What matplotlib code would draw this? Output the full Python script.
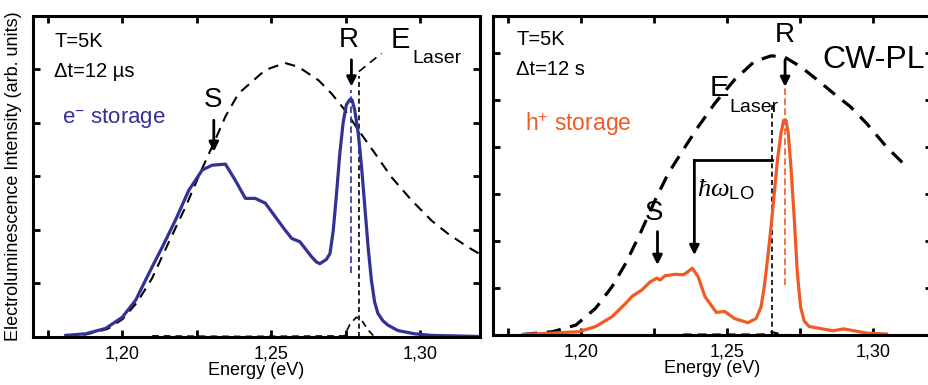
import numpy as np
import matplotlib
matplotlib.use("Agg")
import matplotlib.pyplot as plt
from matplotlib.ticker import FixedLocator, FuncFormatter

plt.rcParams['font.family'] = ['Liberation Sans', 'DejaVu Sans']
plt.rcParams['mathtext.fontset'] = 'custom'
plt.rcParams['mathtext.rm'] = 'Liberation Sans'
plt.rcParams['mathtext.it'] = 'Liberation Serif:italic'

BLUE = '#323296'
ORANGE = '#f15a24'

# left panel: electron storage EL spectrum (dt = 12 us)
e_energy = [1.181, 1.1877, 1.1944, 1.200, 1.2045, 1.2067, 1.210, 1.2134, 1.2178,
            1.2223, 1.2268, 1.2301, 1.2346, 1.2379, 1.2413, 1.2446, 1.248, 1.2513,
            1.2546, 1.2569, 1.2596, 1.2635, 1.2652, 1.2663, 1.2685, 1.2697, 1.2708,
            1.2719, 1.2730, 1.2741, 1.2752, 1.2764, 1.2771, 1.2780, 1.2792, 1.2803,
            1.2814, 1.2825, 1.2836, 1.2847, 1.2858, 1.2875, 1.2892, 1.2925, 1.2981,
            1.3037, 1.320]
e_signal = [0.03, 0.06, 0.16, 0.37, 0.69, 0.94, 1.31, 1.68, 2.18,
            2.74, 3.12, 3.21, 3.23, 2.93, 2.59, 2.59, 2.50, 2.25,
            2.00, 1.84, 1.78, 1.50, 1.40, 1.37, 1.45, 1.56, 1.99,
            2.68, 3.43, 4.00, 4.34, 4.44, 4.43, 4.24, 3.80, 3.18,
            2.43, 1.68, 1.06, 0.65, 0.44, 0.30, 0.22, 0.12, 0.06,
            0.03, 0.01]

# left panel: CW-PL reference (scaled)
pl_left_energy = [1.181, 1.188, 1.195, 1.200, 1.205, 1.210, 1.215, 1.2212, 1.226,
                  1.2305, 1.2346, 1.239, 1.248, 1.2546, 1.259, 1.2658, 1.2702,
                  1.2747, 1.2792, 1.2848, 1.2903, 1.297, 1.3037, 1.3093, 1.316, 1.320]
pl_left_signal = [0.0, 0.05, 0.15, 0.33, 0.65, 1.10, 1.70, 2.43, 3.05,
                  3.60, 4.12, 4.55, 4.99, 5.12, 5.05, 4.80, 4.55,
                  4.24, 3.87, 3.43, 2.99, 2.56, 2.18, 1.93, 1.68, 1.55]

# left panel: laser line profile
laser_left_energy = [1.210, 1.240, 1.2745, 1.2765, 1.2786, 1.2805, 1.2825, 1.2847]
laser_left_signal = [0.02, 0.01, 0.02, 0.25, 0.37, 0.30, 0.13, 0.0]

# right panel: hole storage EL spectrum (dt = 12 s)
h_energy = [1.1802, 1.1904, 1.1994, 1.2051, 1.2107, 1.2153, 1.2175, 1.2209, 1.2237,
            1.226, 1.2271, 1.2288, 1.2322, 1.235, 1.2367, 1.2381, 1.2401, 1.2424,
            1.2463, 1.2492, 1.2525, 1.2571, 1.2599, 1.2616, 1.2627, 1.2638, 1.265,
            1.2661, 1.2672, 1.2684, 1.2693, 1.2701, 1.2709, 1.2718, 1.2729, 1.274,
            1.2751, 1.2763, 1.278, 1.2842, 1.2864, 1.2898, 1.2932, 1.2977, 1.3045]
h_signal = [0.01, 0.04, 0.07, 0.18, 0.39, 0.67, 0.82, 0.96, 1.13,
            1.21, 1.17, 1.26, 1.29, 1.28, 1.35, 1.42, 1.24, 0.82,
            0.48, 0.50, 0.35, 0.26, 0.35, 0.60, 1.03, 1.60, 2.30,
            3.01, 3.72, 4.29, 4.57, 4.57, 4.29, 3.58, 2.52, 1.31,
            0.60, 0.30, 0.18, 0.11, 0.09, 0.13, 0.09, 0.04, 0.02]

# right panel: CW-PL reference (scaled)
pl_right_energy = [1.1802, 1.1904, 1.1983, 1.2051, 1.2107, 1.2153, 1.2203, 1.2254,
                   1.2299, 1.2356, 1.2401, 1.2458, 1.2525, 1.2593, 1.265, 1.2695,
                   1.2751, 1.2808, 1.2864, 1.2921, 1.2977, 1.3045, 1.3102]
pl_right_signal = [0.01, 0.07, 0.21, 0.57, 1.03, 1.52, 2.16, 2.87,
                   3.44, 4.00, 4.43, 4.93, 5.43, 5.82, 5.94, 5.92,
                   5.71, 5.43, 5.14, 4.86, 4.50, 4.00, 3.65]

# right panel: laser line profile
laser_right_energy = [1.235, 1.250, 1.262, 1.2653, 1.268, 1.270]
laser_right_signal = [0.01, 0.01, 0.01, 0.06, 0.02, 0.0]

e_laser_left, r_left = 1.2794, 1.2766
e_laser_right, r_right = 1.2653, 1.2698

fig = plt.figure(figsize=(9.29, 3.85), dpi=100)
ax1 = fig.add_axes([0.0355, 0.1247, 0.481, 0.834])
ax2 = fig.add_axes([0.5307, 0.130, 0.4725, 0.8286])

comma = FuncFormatter(lambda v, p: ('%.2f' % v).replace('.', ',')
                      if abs(round(v / 0.05) * 0.05 - v) < 1e-6 else '')


def style(ax, ymax, yticks):
    ax.set_xlim(1.17, 1.32)
    ax.set_ylim(0, ymax)
    ax.xaxis.set_major_locator(FixedLocator([1.175, 1.20, 1.225, 1.25, 1.275, 1.30]))
    ax.xaxis.set_major_formatter(comma)
    ax.yaxis.set_major_locator(FixedLocator(yticks))
    ax.set_yticklabels([])
    ax.tick_params(direction='in', length=5, width=2, top=True, right=True,
                   labelsize=13, pad=6)
    for s in ax.spines.values():
        s.set_linewidth(2.2)
    ax.set_xlabel('Energy (eV)', fontsize=13, labelpad=0)


def arrow(ax, x, y0, y1):
    ax.annotate('', xy=(x, y1), xytext=(x, y0),
                arrowprops=dict(arrowstyle='-|>', lw=2, color='k',
                                mutation_scale=14, shrinkA=0, shrinkB=0))


# ---- left panel ----
style(ax1, 6, [1, 2, 3, 4, 5])
ax1.plot(pl_left_energy, pl_left_signal, color='k', lw=1.5, dashes=(5, 3.5))
ax1.plot(laser_left_energy, laser_left_signal, color='k', lw=1.2, dashes=(4, 3))
ax1.plot([e_laser_left, e_laser_left], [0, 4.87], color='k', lw=1.2, dashes=(3, 2))
ax1.plot([e_laser_left, 1.287], [4.96, 5.30], color='k', lw=1.2, dashes=(5, 3.5))
ax1.plot(e_energy, e_signal, color=BLUE, lw=2.3, solid_joinstyle='round')
ax1.plot([r_left, r_left], [1.19, 4.62], color=BLUE, lw=1.2, dashes=(4, 2))
ax1.set_ylabel('Electroluminescence Intensity (arb. units)', fontsize=13, labelpad=2)

ax1.text(1.1771, 5.52, 'T=5K', fontsize=14.5, va='center')
ax1.text(1.1771, 4.96, '\u0394t=12 \u00b5s', fontsize=14.5, va='center')
ax1.text(1.1799, 4.09, r'e$^{\mathregular{-}}$ storage', fontsize=16, va='center',
         color=BLUE)
ax1.text(1.2304, 4.43, 'S', fontsize=20, ha='center', va='center')
arrow(ax1, 1.2307, 4.05, 3.46)
ax1.text(1.2760, 5.55, 'R', fontsize=20, ha='center', va='center')
arrow(ax1, 1.2769, 5.18, 4.68)
ax1.text(1.2900, 5.55, 'E', fontsize=21, va='center')
ax1.text(1.2972, 5.12, 'Laser', fontsize=14, va='baseline')

# ---- right panel ----
style(ax2, 6.79, [1, 2, 3, 4, 5, 6])
ax2.plot(pl_right_energy, pl_right_signal, color='k', lw=2.3, dashes=(4.5, 3))
ax2.plot(laser_right_energy, laser_right_signal, color='k', lw=1.5, dashes=(4, 3))
ax2.plot([e_laser_right, e_laser_right], [0, 4.93], color='k', lw=1.2, dashes=(3, 2))
ax2.plot(h_energy, h_signal, color=ORANGE, lw=2.3, solid_joinstyle='round')
ax2.plot([r_right, r_right], [1.06, 5.28], color=ORANGE, lw=1.2, dashes=(4, 2))

ax2.text(1.178, 6.28, 'T=5K', fontsize=14.5, va='center')
ax2.text(1.178, 5.64, '\u0394t=12 s', fontsize=14.5, va='center')
ax2.text(1.1808, 4.50, r'h$^{\mathregular{+}}$ storage', fontsize=16.5, va='center',
         color=ORANGE)
ax2.text(1.2251, 2.59, 'S', fontsize=20, ha='center', va='center')
arrow(ax2, 1.2262, 2.20, 1.49)
ax2.plot([1.2388, e_laser_right], [3.72, 3.72], color='k', lw=2)
arrow(ax2, 1.2388, 3.72, 1.70)
ax2.text(1.2398, 3.10, r'$\hbar\omega_{\mathrm{LO}}$', fontsize=19, va='center')
ax2.text(1.2475, 5.25, 'E', fontsize=21, ha='center', va='center')
ax2.text(1.2508, 4.74, 'Laser', fontsize=14, va='baseline')
ax2.text(1.2697, 6.38, 'R', fontsize=20, ha='center', va='center')
arrow(ax2, 1.2698, 5.85, 5.28)
ax2.text(1.3000, 5.85, 'CW-PL', fontsize=23, ha='center', va='center')

fig.savefig('out.png', dpi=100)
